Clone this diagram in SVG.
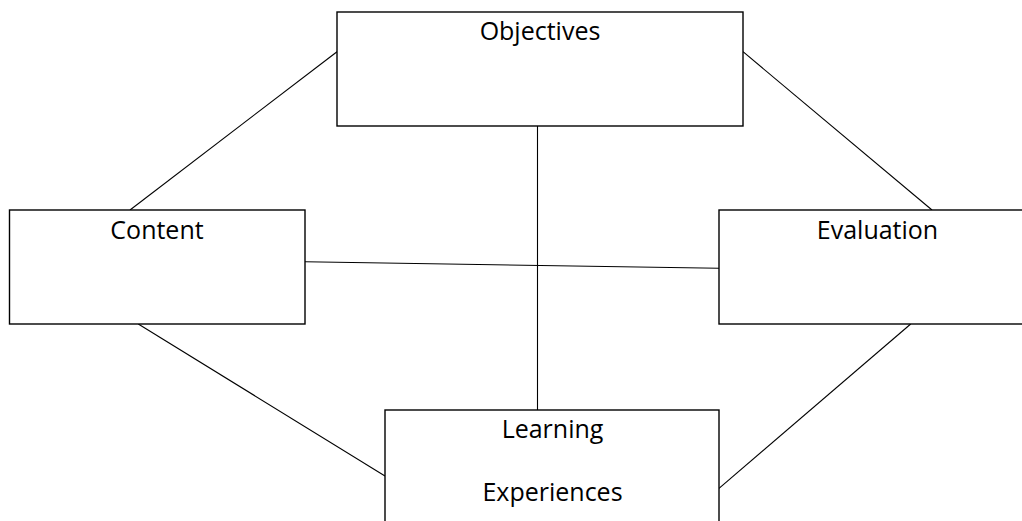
<svg xmlns="http://www.w3.org/2000/svg" width="1022" height="521" viewBox="0 0 1022 521">
<style>
.box{fill:#fff;stroke:#000;stroke-width:1.4}
.lbl{font-family:"Open Sans","Liberation Sans",sans-serif;font-size:25px;fill:#000;text-anchor:middle}
.conn line{stroke:#000;stroke-width:1.1}
</style>
<rect width="1022" height="521" fill="#fff"/>
<g id="connectors" class="conn">
<line x1="337" y1="51.7" x2="130" y2="210"/>
<line x1="743" y1="51.7" x2="932" y2="210"/>
<line x1="537.5" y1="126" x2="537.5" y2="410"/>
<line x1="305" y1="261.7" x2="719" y2="268.3"/>
<line x1="138.3" y1="324" x2="385" y2="476"/>
<line x1="910.7" y1="324" x2="719" y2="488.3"/>
</g>
<g id="objectives">
<rect class="box" x="337" y="12" width="406" height="114"/>
<text class="lbl" x="540" y="40">Objectives</text>
</g>
<g id="content">
<rect class="box" x="9.5" y="210" width="295.5" height="114"/>
<text class="lbl" x="157" y="239">Content</text>
</g>
<g id="evaluation">
<rect class="box" x="719" y="210" width="320" height="114"/>
<text class="lbl" x="877.5" y="239">Evaluation</text>
</g>
<g id="learning-experiences">
<rect class="box" x="385" y="410" width="334" height="120"/>
<text class="lbl" x="552.5" y="437.5">Learning</text>
<text class="lbl" x="552.5" y="501">Experiences</text>
</g>
</svg>
